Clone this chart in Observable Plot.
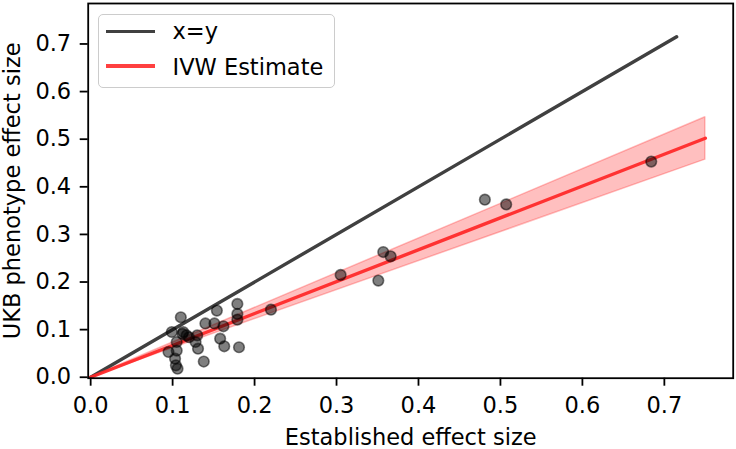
<!DOCTYPE html>
<html>
<head>
<meta charset="utf-8">
<script src="https://cdn.jsdelivr.net/npm/d3@7"></script>
<script src="https://cdn.jsdelivr.net/npm/@observablehq/plot@0.6"></script>
<style>
  html, body { margin: 0; padding: 0; background: white; }
  #wrap { position: relative; width: 736px; height: 449px; font-family: "DejaVu Sans", sans-serif; }
  #wrap svg { display: block; }
  .legend { position: absolute; left: 98px; top: 14px; width: 237px; height: 74px;
    border: 1.8px solid #cccccc; border-radius: 5px; background: rgba(255,255,255,0.8); box-sizing: border-box; }
  .lg-line { position: absolute; height: 3.4px; width: 49px; }
  .lg-text { position: absolute; font-size: 22.5px; line-height: 26px; white-space: nowrap; color: black; }
</style>
</head>
<body>
<div id="wrap"></div>
<script>
// Established effect size (x) and UKB phenotype effect size (y)
const establishedEffect = [0.684, 0.481, 0.507, 0.357, 0.366, 0.305, 0.351, 0.220, 0.110, 0.154,
  0.179, 0.179, 0.179, 0.140, 0.151, 0.162, 0.099, 0.112, 0.113, 0.130,
  0.120, 0.128, 0.131, 0.158, 0.163, 0.181, 0.138, 0.095, 0.105, 0.105,
  0.103, 0.104, 0.106, 0.117];
const ukbEffect = [0.453, 0.373, 0.363, 0.263, 0.254, 0.215, 0.203, 0.142, 0.126, 0.140,
  0.154, 0.133, 0.121, 0.113, 0.113, 0.107, 0.095, 0.091, 0.095, 0.088,
  0.084, 0.074, 0.060, 0.081, 0.065, 0.063, 0.033, 0.053, 0.056, 0.074,
  0.039, 0.025, 0.018, 0.088];

// x = y reference line
const identityX = [0, 0.715];
const identityY = [0, 0.715];

// IVW estimate line with confidence band
const ivwX = [0, 0.75];
const ivwY = [0, 0.502];
const ivwLower = [0, 0.457];
const ivwUpper = [0, 0.546];

const xTicks = [0, 0.1, 0.2, 0.3, 0.4, 0.5, 0.6, 0.7];
const yTicks = [0, 0.1, 0.2, 0.3, 0.4, 0.5, 0.6, 0.7];

const xLabel = "Established effect size";
const yLabel = "UKB phenotype effect size";
const legendLabels = ["x=y", "IVW Estimate"];

const points = establishedEffect.map((x, i) => ({x, y: ukbEffect[i]}));
const identity = identityX.map((x, i) => ({x, y: identityY[i]}));
const ivw = ivwX.map((x, i) => ({x, y: ivwY[i], lo: ivwLower[i], hi: ivwUpper[i]}));

const fmt = d3.format(".1f");

const chart = Plot.plot({
  width: 736,
  height: 449,
  marginLeft: 87.7,
  marginRight: 3.3,
  marginTop: 3,
  marginBottom: 71.3,
  style: {fontFamily: "DejaVu Sans", fontSize: "22.5px", color: "black", background: "white"},
  x: {domain: [-0.003, 0.784]},
  y: {domain: [-0.002, 0.785]},
  marks: [
    Plot.areaY(ivw, {x: "x", y1: "lo", y2: "hi", fill: "#ff0000", fillOpacity: 0.25, stroke: "#ff0000", strokeOpacity: 0.25, strokeWidth: 1.5}),
    Plot.line(identity, {x: "x", y: "y", stroke: "#404040", strokeWidth: 3.4}),
    Plot.line(ivw, {x: "x", y: "y", stroke: "#ff2a2a", strokeWidth: 3.4, strokeOpacity: 0.95}),
    Plot.dot(points, {x: "x", y: "y", r: 5.3, fill: "black", fillOpacity: 0.5, stroke: "black", strokeOpacity: 0.5, strokeWidth: 1.6}),
    Plot.frame({stroke: "black", strokeWidth: 1.8}),
    Plot.axisX({ticks: xTicks, tickFormat: fmt, tickSize: 8, tickPadding: 11, strokeWidth: 1.8, label: null, fontSize: 22.5}),
    Plot.axisY({ticks: yTicks, tickFormat: fmt, tickSize: 8, tickPadding: 9, strokeWidth: 1.8, label: null, fontSize: 22.5}),
    Plot.text([xLabel], {text: d => d, frameAnchor: "bottom", textAnchor: "middle", lineAnchor: "bottom", dy: 66.6, fontSize: 22.5, fill: "black"}),
    Plot.text([yLabel], {text: d => d, frameAnchor: "left", textAnchor: "middle", lineAnchor: "bottom", rotate: -90, dx: -68.2, fontSize: 22.5, fill: "black"})
  ]
});

const wrap = document.getElementById("wrap");
wrap.appendChild(chart);

// Legend (inside plot area, upper left)
const legend = document.createElement("div");
legend.className = "legend";
const legendColors = ["#404040", "#ff4040"];
const lineTops = [32.3, 66.7];
const textTops = [19.2, 55.2];
legendLabels.forEach((lab, i) => {
  const ln = document.createElement("div");
  ln.className = "lg-line";
  ln.style.background = legendColors[i];
  ln.style.left = (106.7 - 98 - 1.8) + "px";
  ln.style.top = (lineTops[i] - 14 - 1.8 - 1.7) + "px";
  legend.appendChild(ln);
  const tx = document.createElement("div");
  tx.className = "lg-text";
  tx.textContent = lab;
  tx.style.left = (173.3 - 98 - 1.8) + "px";
  tx.style.top = (textTops[i] - 14 - 1.8) + "px";
  legend.appendChild(tx);
});
wrap.appendChild(legend);
</script>
</body>
</html>
